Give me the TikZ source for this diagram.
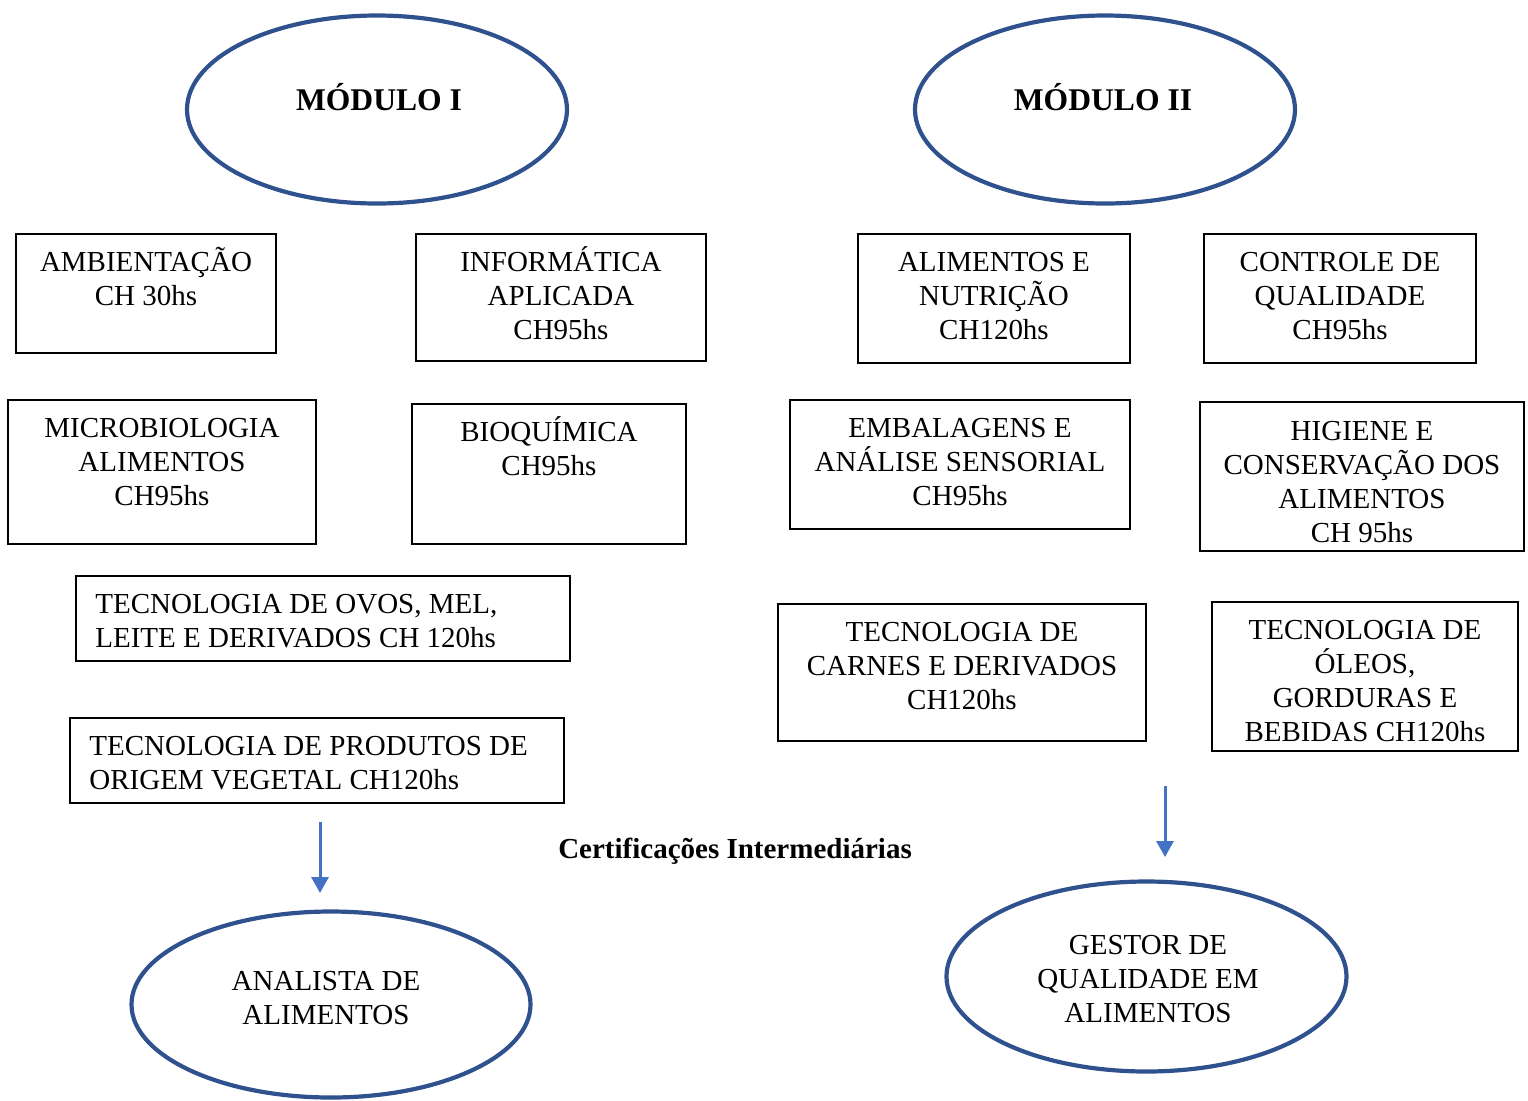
\documentclass[tikz,border=0pt]{standalone}
\usepackage{fontspec}
\setmainfont{Liberation Serif}
\usetikzlibrary{shapes.geometric,arrows.meta}
\definecolor{ellblue}{HTML}{2F528F}
\definecolor{arrblue}{HTML}{4472C4}
\newcommand{\fl}{\rule{0pt}{14pt}}
\tikzset{
  box/.style={draw=black, line width=1pt, rectangle, inner sep=0pt},
  txt/.style={align=center, inner sep=0pt, anchor=north, font=\fontsize{14.5pt}{17pt}\selectfont},
  ltxt/.style={align=left, inner sep=0pt, anchor=north west, font=\fontsize{14.5pt}{17pt}\selectfont},
  oval/.style={draw=ellblue, line width=2.1pt, ellipse, inner sep=0pt},
  arr/.style={draw=arrblue, line width=1.5pt, -{Triangle[width=8.5pt,length=8pt]}}
}
\begin{document}
\begin{tikzpicture}[x=0.5pt,y=-0.5pt]
\useasboundingbox (0,0) rectangle (1528,1100);
% Module ellipses
\node[oval, minimum width=190pt, minimum height=94pt] (m1) at (377,109.5) {};
\node[font=\fontsize{15.8pt}{19pt}\selectfont\bfseries, anchor=base, inner sep=0pt] (m1t) at (379,110.5) {MÓDULO I};
\node[oval, minimum width=190pt, minimum height=94pt] (m2) at (1105,109.5) {};
\node[font=\fontsize{15.8pt}{19pt}\selectfont\bfseries, anchor=base, inner sep=0pt] (m2t) at (1103,110.5) {MÓDULO II};
% Left boxes
\node[box, minimum width=130pt, minimum height=59.5pt] (amb) at (146,293.5) {};
\node[txt, yshift=-5pt] (ambt) at (amb.north) {\fl AMBIENTAÇÃO\\CH 30hs};
\node[box, minimum width=145pt, minimum height=63.5pt] (inf) at (561,297.5) {};
\node[txt, yshift=-5pt] (inft) at (inf.north) {\fl INFORMÁTICA\\APLICADA\\CH95hs};
\node[box, minimum width=154pt, minimum height=72pt] (mic) at (162,472) {};
\node[txt, yshift=-5pt] (mict) at (mic.north) {\fl MICROBIOLOGIA\\ALIMENTOS\\CH95hs};
\node[box, minimum width=137pt, minimum height=70pt] (bio) at (549,474) {};
\node[txt, yshift=-5pt] (biot) at (bio.north) {\fl BIOQUÍMICA\\CH95hs};
\node[box, minimum width=247pt, minimum height=42.5pt] (ovo) at (323,618.5) {};
\node[ltxt, xshift=10pt, yshift=-5pt] (ovot) at (ovo.north west) {\fl TECNOLOGIA DE OVOS, MEL,\\LEITE E DERIVADOS CH 120hs};
\node[box, minimum width=247pt, minimum height=42.5pt] (pro) at (317,760.5) {};
\node[ltxt, xshift=10pt, yshift=-5pt] (prot) at (pro.north west) {\fl TECNOLOGIA DE PRODUTOS DE\\ORIGEM VEGETAL CH120hs};
% Right boxes
\node[box, minimum width=136pt, minimum height=64.5pt] (aln) at (994,298.5) {};
\node[txt, yshift=-5pt] (alnt) at (aln.north) {\fl ALIMENTOS E\\NUTRIÇÃO\\CH120hs};
\node[box, minimum width=136pt, minimum height=64.5pt] (con) at (1340,298.5) {};
\node[txt, yshift=-5pt] (cont) at (con.north) {\fl CONTROLE DE\\QUALIDADE\\CH95hs};
\node[box, minimum width=170pt, minimum height=64.5pt] (emb) at (960,464.5) {};
\node[txt, yshift=-5pt] (embt) at (emb.north) {\fl EMBALAGENS E\\ANÁLISE SENSORIAL\\CH95hs};
\node[box, minimum width=162pt, minimum height=74.5pt] (hig) at (1362,476.5) {};
\node[txt, yshift=-5.5pt] (higt) at (hig.north) {\fl HIGIENE E\\CONSERVAÇÃO DOS\\ALIMENTOS\\CH 95hs};
\node[box, minimum width=184pt, minimum height=68.5pt] (car) at (962,672.5) {};
\node[txt, yshift=-5pt] (cart) at (car.north) {\fl TECNOLOGIA DE\\CARNES E DERIVADOS\\CH120hs};
\node[box, minimum width=153pt, minimum height=74.5pt] (ole) at (1365,676.5) {};
\node[txt, yshift=-5pt] (olet) at (ole.north) {\fl TECNOLOGIA DE\\ÓLEOS,\\GORDURAS E\\BEBIDAS CH120hs};
% Certification label
\node[font=\fontsize{14.5pt}{17pt}\selectfont\bfseries, anchor=base, inner sep=0pt] (cert) at (735,858) {Certificações Intermediárias};
% Arrows
\coordinate (a1s) at (320,822);
\coordinate (a1e) at (320,893);
\draw[arr] (a1s) -- (a1e);
\coordinate (a2s) at (1165,786);
\coordinate (a2e) at (1165,857);
\draw[arr] (a2s) -- (a2e);
% Result ellipses
\node[oval, minimum width=199.5pt, minimum height=93pt] (ana) at (331,1004.5) {};
\node[txt] (anat) at (326,962) {\fl ANALISTA DE\\ALIMENTOS};
\node[oval, minimum width=200pt, minimum height=95pt] (ges) at (1146.5,976.5) {};
\node[txt] (gest) at (1148,926) {\fl GESTOR DE\\QUALIDADE EM\\ALIMENTOS};
\end{tikzpicture}
\end{document}
